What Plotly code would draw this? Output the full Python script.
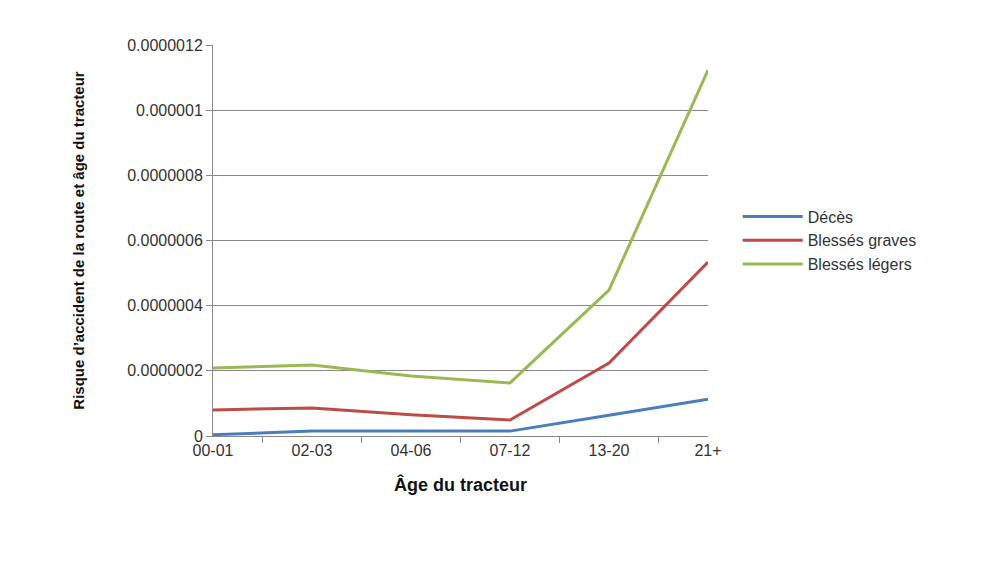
import plotly.graph_objects as go

ages = ["00-01", "02-03", "04-06", "07-12", "13-20", "21+"]
deces = [0.004e-6, 0.015e-6, 0.015e-6, 0.015e-6, 0.064e-6, 0.113e-6]
graves = [0.080e-6, 0.086e-6, 0.065e-6, 0.049e-6, 0.224e-6, 0.534e-6]
legers = [0.209e-6, 0.218e-6, 0.184e-6, 0.163e-6, 0.448e-6, 1.123e-6]

tick_vals = [0, 2e-7, 4e-7, 6e-7, 8e-7, 1e-6, 1.2e-6]
tick_text = ["0", "0.0000002", "0.0000004", "0.0000006", "0.0000008", "0.000001", "0.0000012"]

fig = go.Figure()
for name, vals, col in [("Décès", deces, "#4a7ebb"),
                        ("Blessés graves", graves, "#be4b48"),
                        ("Blessés légers", legers, "#98b954")]:
    fig.add_trace(go.Scatter(x=ages, y=vals, name=name, mode="lines",
                             line=dict(color=col, width=3)))

fig.update_layout(
    width=993, height=562, plot_bgcolor="white", paper_bgcolor="white",
    margin=dict(l=205, r=293, t=37, b=134),
    font=dict(family="Liberation Sans, Arial", size=16, color="#333"),
    legend=dict(x=1.06, y=0.5, yanchor="middle", font=dict(size=16),
                tracegroupgap=18, itemwidth=60),
    showlegend=True,
)
fig.update_xaxes(
    type="category",
    title=dict(text="<b>Âge du tracteur</b>", font=dict(size=18, color="#111"), standoff=20),
    showline=True, linecolor="#888", ticks="outside", tickson="boundaries",
    ticklen=6, tickcolor="#888", showgrid=False,
)
fig.update_yaxes(
    title=dict(text="<b>Risque d’accident de la route et âge du tracteur</b>",
               font=dict(size=15, color="#111"), standoff=38),
    range=[0, 1.2e-6], tickvals=tick_vals, ticktext=tick_text,
    showgrid=True, gridcolor="#888", showline=True, linecolor="#888",
    ticks="outside", ticklen=6, tickcolor="#888", zeroline=False,
)
fig.write_html("out.html")
